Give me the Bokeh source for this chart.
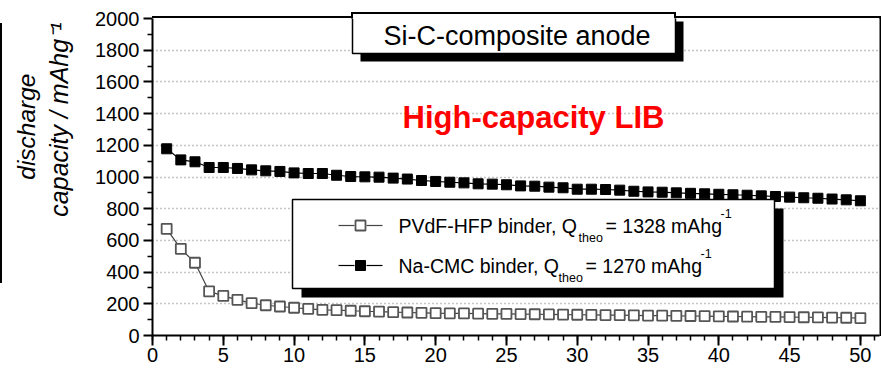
import math
from bokeh.plotting import figure
from bokeh.models import Range1d, FixedTicker, Label, BoxAnnotation, Title
from bokeh.embed import file_html
from bokeh.resources import INLINE

# ---------------- data ----------------
cycles = list(range(1, 51))
na_cmc = [1178, 1108, 1096, 1060, 1060, 1054, 1045, 1039, 1035, 1026,
          1022, 1022, 1011, 1003, 1001, 999, 993, 987, 978, 972,
          967, 963, 957, 955, 951, 944, 942, 936, 932, 923,
          923, 921, 917, 910, 906, 904, 900, 897, 894, 891,
          888, 885, 881, 877, 873, 869, 866, 861, 856, 850]
pvdf = [673, 547, 459, 278, 250, 225, 204, 191, 183, 175,
        168, 162, 160, 156, 153, 151, 147, 145, 143, 141,
        140, 139, 138, 137, 136, 135, 134, 133, 132, 131,
        130, 129, 128, 127, 126, 125, 124, 123, 122, 121,
        120, 119, 118, 117, 116, 115, 114, 113, 112, 110]
x_ticks = [0, 5, 10, 15, 20, 25, 30, 35, 40, 45, 50]
x_minor = list(range(0, 52))
y_ticks = [0, 200, 400, 600, 800, 1000, 1200, 1400, 1600, 1800, 2000]
y_minor = [100, 300, 500, 700, 900, 1100, 1300, 1500, 1700, 1900]

title_text = "Si-C-composite anode"
red_text = "High-capacity LIB"
ylabel_1 = "discharge"
ylabel_2 = "capacity / mAhg\u207b\u00b9"
series1 = ("PVdF-HFP binder, Q", "theo", "= 1328 mAhg", "-1")
series2 = ("Na-CMC binder, Q", "theo", "= 1270 mAhg", "-1")

# ---------------- layout ----------------
W, H = 881, 371
FL, FR, FT, FB = 152, 879, 18, 335
X0, X1 = 0.0, 51.35
Y0, Y1 = 0.0, 2000.0

def px2x(px):
    return X0 + (px - FL) * (X1 - X0) / (FR - FL)

def py2y(py):
    return Y0 + (FB - py) * (Y1 - Y0) / (FB - FT)

FONT = "Liberation Sans"

p = figure(width=W, height=H, x_range=Range1d(X0, X1), y_range=Range1d(Y0, Y1),
           output_backend="svg", toolbar_location=None,
           min_border_left=FL, min_border_right=W - FR,
           min_border_top=FT, min_border_bottom=H - FB)
p.background_fill_color = "white"
p.border_fill_color = "white"
p.border_fill_alpha = 0
p.outline_line_color = None

# decorations living in the (transparent) border area, painted behind the canvas:
# stray scan rule at far left, top/right frame lines, top edge of the title box
_bars = [
    (0, 23, 2, 260),          # stray vertical rule
    (152, 16, 200, 2),        # frame top, left part
    (675, 16, 205, 2),        # frame top, right part
    (879, 16, 2, 320),        # frame right
    (351, 12, 325, 2),        # title box top edge
    (351, 12, 2, 7),          # title box left edge (above frame)
    (674, 12, 2, 7),          # title box right edge (above frame)
]
p.styles = {"background": ", ".join(
    f"linear-gradient(#000, #000) {x}px {y}px / {w}px {h}px no-repeat" for x, y, w, h in _bars)
    + ", #fff"}

p.xaxis.ticker = FixedTicker(ticks=x_ticks, minor_ticks=x_minor)
p.yaxis.ticker = FixedTicker(ticks=y_ticks, minor_ticks=y_minor)
for ax, mo, so in ((p.xaxis, 10, 2), (p.yaxis, 9, 4)):
    ax.axis_line_width = 2
    ax.axis_line_color = "black"
    ax.major_tick_out = mo
    ax.major_tick_in = 0
    ax.minor_tick_out = 5
    ax.minor_tick_in = 0
    ax.major_tick_line_width = 2
    ax.minor_tick_line_width = 1.5
    ax.major_tick_line_color = "black"
    ax.minor_tick_line_color = "black"
    ax.major_label_text_font = FONT
    ax.major_label_text_font_size = "20px"
    ax.major_label_text_color = "black"
    ax.major_label_standoff = so

# a blank, tiny axis label only to leave a gap between tick labels and the y title
p.yaxis.axis_label = " "
p.yaxis.axis_label_text_font_size = "2px"
p.yaxis.axis_label_standoff = 14

# y axis label as two stacked side titles (first added = closest to axis)
p.add_layout(Title(text=ylabel_2, align="right", offset=4, standoff=0,
                   text_font=FONT, text_font_size="25px", text_font_style="italic",
                   text_color="black"), "left")
p.add_layout(Title(text=ylabel_1, align="right", offset=55, standoff=6,
                   text_font=FONT, text_font_size="24.5px", text_font_style="italic",
                   text_color="black"), "left")

p.xgrid.visible = False
p.ygrid.grid_line_color = "#8a8a8a"
p.ygrid.grid_line_dash = "1 3"
p.ygrid.grid_line_width = 1.5

# ---------------- series ----------------
p.line(cycles, pvdf, line_color="#444444", line_width=1.2)
p.scatter(cycles, pvdf, marker="square", size=10, fill_color="white",
          line_color="#555555", line_width=1.8)
p.line(cycles, na_cmc, line_color="black", line_width=1.2)
p.scatter(cycles, na_cmc, marker="square", size=10, fill_color="black",
          line_color="black")

# ---------------- boxes ----------------
def box(l, r, t, b, fill, line=None, lw=1.5):
    p.add_layout(BoxAnnotation(left=px2x(l), right=px2x(r), top=py2y(t), bottom=py2y(b),
                               fill_color=fill, fill_alpha=1,
                               line_color=line, line_width=lw,
                               line_alpha=1 if line else 0))

# title box + shadow
box(360, 683, 21, 61, "black")
box(352, 675, 13, 53, "white", "black", 1.5)
# legend box + shadow
box(301, 783, 208, 297, "black")
box(292, 774, 199, 288, "white", "black", 1.5)

def label(px, py, text, size, align="left", baseline="middle", color="black",
          style="normal", angle=0.0):
    p.add_layout(Label(x=px2x(px), y=py2y(py), text=text,
                       text_font=FONT, text_font_size=f"{size}px",
                       text_font_style=style, text_color=color,
                       text_align=align, text_baseline=baseline, angle=angle))

label(383, 35, title_text, 27)
label(533, 117, red_text, 31, align="center", color="#ff0000", style="bold")

# legend entries
for (main, sub, rest, sup), yc, xq, xr, filled in (
        (series1, 225, 578, 605, False), (series2, 265, 558, 585, True)):
    label(398, yc, main, 19.5)
    label(xq, yc + 12, sub, 12.5)
    label(xr, yc, rest, 19.5)
    label(xr + 115, yc - 12, sup, 12.5)
    lc = "#444444" if not filled else "black"
    p.segment(x0=[px2x(338), px2x(366)], y0=[py2y(yc)] * 2,
              x1=[px2x(354), px2x(382)], y1=[py2y(yc)] * 2,
              line_color=lc, line_width=1.2, level="overlay")
    if filled:
        p.scatter([px2x(360)], [py2y(yc)], marker="square", size=10,
                  fill_color="black", line_color="black", level="overlay")
    else:
        p.scatter([px2x(360)], [py2y(yc)], marker="square", size=10,
                  fill_color="white", line_color="#555555", line_width=1.8,
                  level="overlay")

open("out.html", "w").write(file_html(p, INLINE))
